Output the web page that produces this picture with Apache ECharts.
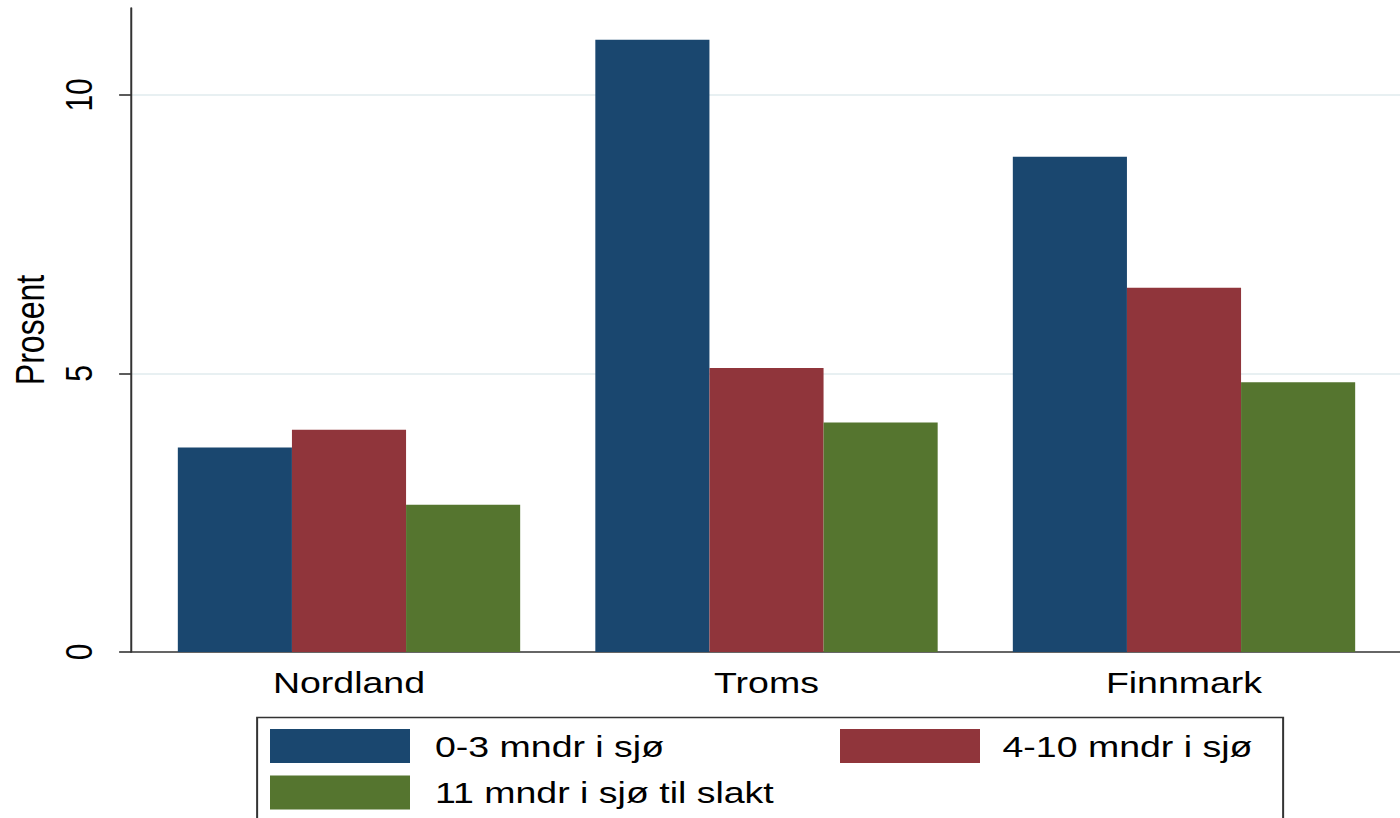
<!DOCTYPE html>
<html>
<head>
<meta charset="utf-8">
<script src="https://cdn.jsdelivr.net/npm/echarts@6/dist/echarts.min.js"></script>
<style>
html, body { margin: 0; padding: 0; background: #fff; overflow: hidden; }
#chart { width: 1120px; height: 818px; transform: scaleX(1.25); transform-origin: 0 0; }
</style>
</head>
<body>
<div id="chart"></div>
<script>
const categories = ['Nordland', 'Troms', 'Finnmark'];
const seriesNames = ['0-3 mndr i sjø', '4-10 mndr i sjø', '11 mndr i sjø til slakt'];
const values03 = [3.67, 10.99, 8.89];
const values410 = [3.99, 5.10, 6.54];
const values11 = [2.645, 4.12, 4.84];
const yTicks = [0, 5, 10];
const yMax = 11.56;
const colors = ['#1a476f', '#90353b', '#55752f'];

const font = '"Liberation Sans", Arial, sans-serif';
const axisColor = '#333';

const chart = echarts.init(document.getElementById('chart'), null, { renderer: 'svg' });
chart.setOption({
  animation: false,
  textStyle: { fontFamily: font, color: '#000' },
  grid: [
    { left: 112.2, right: 5.8, top: 8, bottom: 166 },
    { left: 94.4, right: 0, top: 8, bottom: 166 }
  ],
  xAxis: [
    {
      type: 'category', gridIndex: 0, data: categories,
      axisLine: { show: false }, axisTick: { show: false },
      axisLabel: { fontSize: 30, color: '#000', margin: 15, fontFamily: font }
    },
    {
      type: 'value', gridIndex: 1, min: 0, max: 1,
      axisLine: { show: true, lineStyle: { color: axisColor, width: 1.6 } },
      axisTick: { show: false }, axisLabel: { show: false }, splitLine: { show: false }
    }
  ],
  yAxis: [
    {
      type: 'value', gridIndex: 0, min: 0, max: yMax,
      axisLine: { show: false }, axisTick: { show: false },
      axisLabel: { show: false }, splitLine: { show: false }
    },
    {
      type: 'value', gridIndex: 1, min: 0, max: yMax, interval: 5,
      name: 'Prosent', nameLocation: 'middle', nameRotate: 90, nameGap: 52,
      nameTextStyle: { fontSize: 32, color: '#000', fontFamily: font },
      axisLine: { show: true, lineStyle: { color: axisColor, width: 1.6 } },
      axisTick: { show: true, length: 9.6, customValues: yTicks, lineStyle: { color: axisColor, width: 1.6 } },
      axisLabel: { show: true, rotate: 90, fontSize: 30, margin: 27, color: '#000', customValues: yTicks, fontFamily: font },
      splitLine: { show: true, showMinLine: false, showMaxLine: true, lineStyle: { color: '#e8f0f2', width: 2 } }
    }
  ],
  legend: [
    {
      data: [seriesNames[0], seriesNames[2]], orient: 'vertical',
      left: 216, top: 729, padding: 0, itemGap: 12.4,
      itemWidth: 112, itemHeight: 34, icon: 'rect',
      textStyle: { fontSize: 30, color: '#000', fontFamily: font, padding: [0, 0, 0, 15] },
      selectedMode: false
    },
    {
      data: [seriesNames[1]], orient: 'vertical',
      left: 672, top: 729, padding: 0,
      itemWidth: 112, itemHeight: 34, icon: 'rect',
      textStyle: { fontSize: 30, color: '#000', fontFamily: font, padding: [0, 0, 0, 13] },
      selectedMode: false
    }
  ],
  graphic: [
    {
      type: 'rect', left: 203.2, top: 715, silent: true,
      shape: { width: 820.8, height: 130 },
      style: { fill: 'none', stroke: axisColor, lineWidth: 1.6 }
    }
  ],
  series: [
    { name: seriesNames[0], type: 'bar', data: values03, xAxisIndex: 0, yAxisIndex: 0,
      itemStyle: { color: colors[0] }, barGap: '0%', barCategoryGap: '18%' },
    { name: seriesNames[1], type: 'bar', data: values410, xAxisIndex: 0, yAxisIndex: 0,
      itemStyle: { color: colors[1] }, barGap: '0%', barCategoryGap: '18%' },
    { name: seriesNames[2], type: 'bar', data: values11, xAxisIndex: 0, yAxisIndex: 0,
      itemStyle: { color: colors[2] }, barGap: '0%', barCategoryGap: '18%' }
  ]
});
</script>
</body>
</html>
